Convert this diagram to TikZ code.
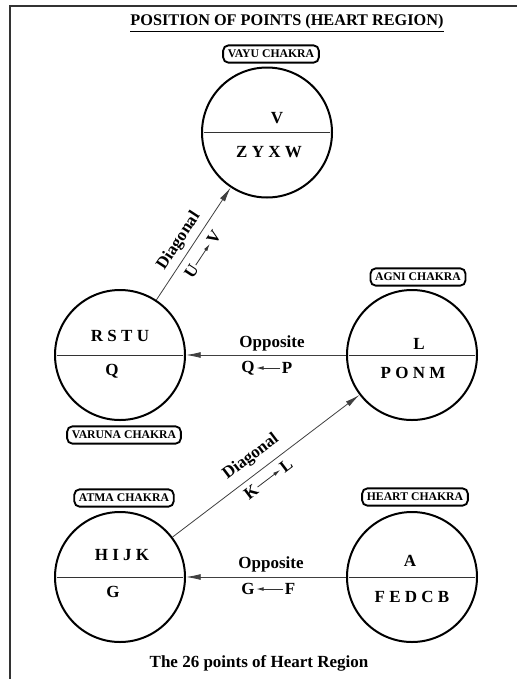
\documentclass[tikz,border=0pt]{standalone}
\usepackage{fontspec}
\setmainfont{Liberation Serif}
\usetikzlibrary{arrows.meta,calc}
\begin{document}
\begin{tikzpicture}[x=0.75pt,y=-0.75pt,
  chakra/.style={circle, draw, line width=1.5pt, minimum size=97.5pt, inner sep=0pt},
  pts/.style={font=\fontsize{12.75}{14}\selectfont\bfseries, inner sep=1pt},
  rpts/.style={font=\fontsize{12.75}{14}\selectfont\bfseries, inner sep=0pt},
  tag/.style={draw, rounded corners=4pt, line width=1.4pt, font=\fontsize{8.8}{10}\selectfont\bfseries, inner xsep=3.5pt, inner ysep=0pt, minimum height=13pt},
  conn/.style={draw=black!75, line width=0.6pt, -{Latex[length=11pt,width=4.4pt]}},
  small/.style={draw=black!80, line width=0.6pt, -{Latex[length=5.5pt,width=2.8pt]}},
  divider/.style={draw=black!80, line width=0.6pt},
  frame/.style={draw=black!80, line width=1.1pt}]
\useasboundingbox (0,0) rectangle (517,679);
\fill[white] (0,0) rectangle (517,679);
\draw[frame] (517,6) -- (10,6) -- (10,679);

% title
\node[font=\fontsize{12.2}{14}\selectfont\bfseries, inner sep=0pt] (title) at (287,23) {\underline{POSITION OF POINTS (HEART REGION)}};

% circles
\node[chakra] (vayu) at (267,132.5) {};
\node[chakra] (varuna) at (120,355) {};
\node[chakra] (agni) at (412,355) {};
\node[chakra] (atma) at (120,577) {};
\node[chakra] (heart) at (412,577) {};

\foreach \c in {vayu,varuna,agni,atma,heart}
  \draw[divider] ($(\c.west)+(3,0)$) -- ($(\c.east)+(-3,0)$);

% chakra tags
\node[tag] (tvayu) at (271,54) {VAYU CHAKRA};
\node[tag] (tagni) at (418,277) {AGNI CHAKRA};
\node[tag] (tvaruna) at (124,435) {VARUNA CHAKRA};
\node[tag] (tatma) at (124,498) {ATMA CHAKRA};
\node[tag] (theart) at (415,497) {HEART CHAKRA};

% points
\node[pts] (v1) at ($(vayu)+(10,-14.5)$) {V};
\node[pts] (v2) at ($(vayu)+(2,19.5)$) {Z Y X W};
\node[pts] (r1) at ($(varuna)+(0,-19)$) {R S T U};
\node[pts] (r2) at ($(varuna)+(-8,16)$) {Q};
\node[pts] (a1) at ($(agni)+(7,-11)$) {L};
\node[pts] (a2) at ($(agni)+(1,18)$) {P O N M};
\node[pts] (m1) at ($(atma)+(2,-22)$) {H I J K};
\node[pts] (m2) at ($(atma)+(-7,15)$) {G};
\node[pts] (h1) at ($(heart)+(-2,-16)$) {A};
\node[pts] (h2) at ($(heart)+(0,20)$) {F E D C B};

% connectors
\draw[conn] (agni) -- (varuna);
\draw[conn] (heart) -- (atma);
\draw[conn] (varuna) -- (vayu);
\draw[conn] (atma) -- (agni);

% labels: opposite (upper)
\node[pts] (op1) at (272,343) {Opposite};
\node[pts] (lq) at (248,368) {Q};
\node[pts] (lp) at (287,368) {P};
\draw[small] (lp) -- (lq);

% labels: opposite (lower)
\node[pts] (op2) at (271,564) {Opposite};
\node[pts] (lg) at (248,589) {G};
\node[pts] (lf) at (290,589) {F};
\draw[small] (lf) -- (lg);

% labels: diagonal (upper)
\node[rpts, rotate=56.7] (dg1) at (179,241) {Diagonal};
\node[rpts, rotate=56.7] (lu) at (191.5,271.5) {U};
\node[rpts, rotate=56.7] (lv) at (214,237.5) {V};
\draw[small, shorten <=1pt, shorten >=1pt] (lu) -- (lv);

% labels: diagonal (lower)
\node[rpts, rotate=37.2] (dg2) at (251,457) {Diagonal};
\node[rpts, rotate=37.2] (lk) at (251,492) {K};
\node[rpts, rotate=37.2] (ll) at (286,465.5) {L};
\draw[small, shorten <=1pt, shorten >=1pt] (lk) -- (ll);

% caption
\node[pts] (cap) at (259,663) {The 26 points of Heart Region};
\end{tikzpicture}
\end{document}
